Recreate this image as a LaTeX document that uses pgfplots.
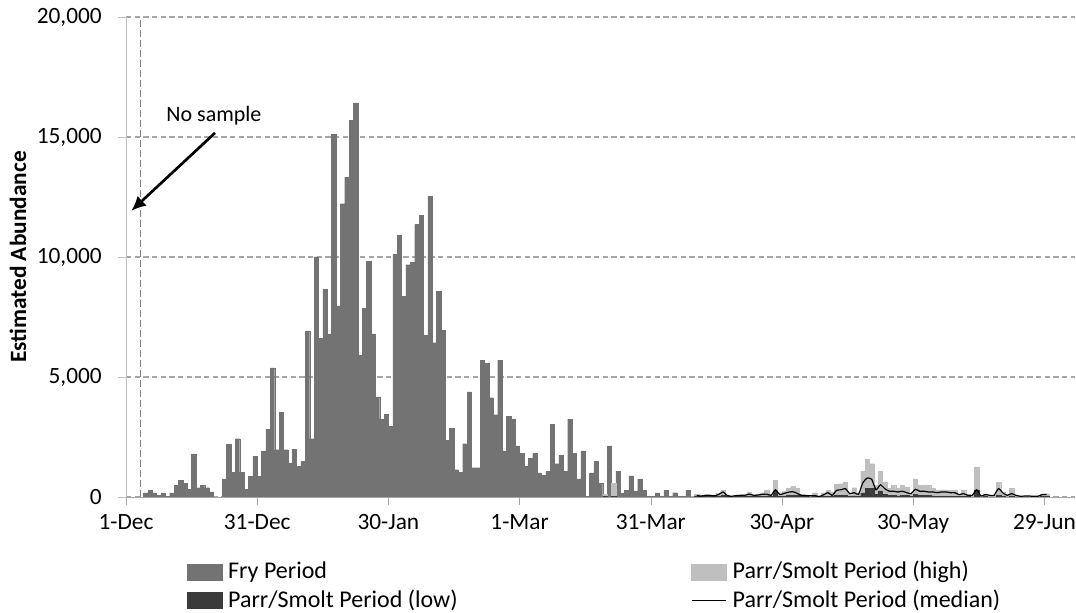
\documentclass[border=0pt]{standalone}
\usepackage{pgfplots}
\pgfplotsset{compat=1.18}
\usepackage{pgfplotstable}
\usepackage{fontspec}
\setmainfont{Carlito}
\usetikzlibrary{arrows.meta}

\definecolor{fry}{HTML}{737373}
\definecolor{high}{HTML}{BFBFBF}
\definecolor{low}{HTML}{3B3B3B}
\definecolor{gridc}{HTML}{A6A6A6}

% daily estimates, day 0 = 1-Dec
\pgfplotstableread{
day y
4 170
5 280
6 170
7 70
8 170
9 30
10 170
11 490
12 690
13 560
14 310
15 1800
16 390
17 490
18 390
19 210
22 760
23 2190
24 1040
25 2430
26 1040
27 310
28 860
29 1690
30 860
31 1920
32 2820
33 5380
34 1970
35 3540
36 1970
37 1420
38 1990
39 1290
40 1490
41 6920
42 2430
43 10000
44 6600
45 8650
46 6800
47 15100
48 7960
49 12220
50 13330
51 15700
52 16420
53 5900
54 7850
55 9830
56 6800
57 4170
58 3260
59 3440
60 2940
61 10110
62 10900
63 8360
64 9680
65 9790
66 11350
67 11740
68 6740
69 12530
70 6430
71 8570
72 6950
73 2360
74 2850
75 1140
76 1040
77 2220
78 4380
79 1220
80 1220
81 5700
82 5580
83 4140
84 3430
85 5700
86 1920
87 3360
88 3250
89 2130
90 1810
91 1290
92 1600
93 1810
94 1010
95 900
96 1080
97 3030
98 1390
99 1740
100 1080
101 3240
102 1810
103 760
104 1920
105 40
106 1000
107 1490
108 580
109 70
110 2130
112 1080
113 170
114 280
115 875
116 250
117 760
118 280
119 30
120 40
121 170
122 30
123 280
124 30
125 180
126 30
127 30
128 280
}\fry

\pgfplotstableread{
day high low med
109 100 30 60
111 560 30 60
130 100 50 60
131 50 20 40
132 80 30 70
133 80 30 70
134 60 20 50
135 150 40 100
136 280 60 210
137 80 20 60
138 40 10 30
139 60 20 60
140 80 30 70
141 90 30 70
142 210 40 120
143 90 30 70
144 130 30 80
145 180 40 110
146 280 50 120
147 90 20 70
148 690 250 300
149 180 40 100
150 240 40 150
151 350 60 200
152 440 70 220
153 375 60 150
154 100 20 60
155 80 20 60
156 60 15 50
157 180 30 60
158 30 10 20
159 180 30 90
160 280 40 180
161 210 30 70
162 530 60 280
163 555 70 300
164 625 80 350
165 170 30 140
166 390 50 180
167 180 30 110
168 1080 170 600
169 1560 350 790
170 1390 350 740
171 490 100 300
172 1070 250 510
173 625 120 350
174 350 60 240
175 510 80 240
176 350 50 210
177 490 70 240
178 420 60 180
179 140 30 140
180 760 100 320
181 490 80 240
182 510 80 240
183 510 70 210
184 350 50 210
185 280 40 180
186 300 40 210
187 300 40 210
188 280 40 180
189 300 40 180
190 100 20 100
191 280 40 140
192 100 20 70
193 70 10 70
194 1250 300 300
195 40 10 40
196 140 20 100
197 60 10 70
198 60 10 70
199 600 80 350
200 210 30 170
201 80 10 70
202 350 50 140
203 70 10 70
204 30 5 30
205 40 5 40
206 40 5 40
207 30 5 30
208 30 5 30
209 100 20 100
210 140 20 100
}\parr

\begin{document}
\fontsize{17.5}{21}\selectfont
\begin{tikzpicture}
\path[use as bounding box] (-94.5pt,-87pt) rectangle (712.5pt,372.75pt);
\begin{axis}[
    scale only axis,
    width=711.75pt, height=360pt,
    xmin=0, xmax=217, ymin=0, ymax=20000,
    axis x line*=bottom, axis y line*=left,
    x axis line style={gridc},
    y axis line style={high},
    tick align=outside, major tick length=6pt,
    xtick={0,30,...,210},
    xticklabels={1-Dec,31-Dec,30-Jan,1-Mar,31-Mar,30-Apr,30-May,29-Jun},
    ytick={0,5000,...,20000},
    scaled y ticks=false,
    xtick style={gridc}, ytick style={high},
    yticklabel style={anchor=east, inner sep=0pt, xshift=-12pt},
    xticklabel style={anchor=north, inner sep=0pt, yshift=-7pt},
    /pgf/number format/.cd, 1000 sep={,}, assume math mode=true, /pgfplots/.cd,
    ymajorgrids,
    major grid style={gridc, dash pattern=on 4pt off 2.5pt, line width=0.8pt},
    ylabel={Estimated Abundance},
    ylabel style={font=\bfseries, at={(axis description cs:-0.1138,0.5)}, anchor=center},
    legend columns=2,
    legend cell align=left,
    legend style={at={(axis description cs:0.0643,-0.1333)}, anchor=north west,
        draw=none, fill=none, inner sep=0pt, row sep=5.5pt,
        font=\fontsize{18}{21}\selectfont,
        nodes={inner sep=0pt},
        /tikz/every odd column/.style={column sep=4.5pt},
        /tikz/every even column/.style={column sep=175pt}},
]
\addplot[ybar, bar width=1, bar shift=0pt, fill=fry, draw=fry, line width=0.2pt,
    legend image code/.code={\fill[fry] (0pt,-6pt) rectangle (26pt,6pt);}]
    table[x expr=\thisrow{day}+0.5, y=y] {\fry};
\addplot[ybar, bar width=1, bar shift=0pt, fill=high, draw=high, line width=0.2pt,
    legend image code/.code={\fill[high] (0pt,-6pt) rectangle (26pt,6pt);}]
    table[x expr=\thisrow{day}+0.5, y=high] {\parr};
\addplot[ybar, bar width=1, bar shift=0pt, fill=low, draw=low, line width=0.2pt,
    legend image code/.code={\fill[low] (0pt,-6pt) rectangle (26pt,6pt);}]
    table[x expr=\thisrow{day}+0.5, y=low] {\parr};
\addplot[black, line width=0.9pt, smooth, tension=0.3, mark=none,
    restrict x to domain=129:212,
    legend image code/.code={\draw[black, line width=0.8pt] (0pt,0pt) -- (26pt,0pt);}]
    table[x expr=\thisrow{day}+0.5, y=med] {\parr};
\legend{Fry Period, Parr/Smolt Period (high), Parr/Smolt Period (low), Parr/Smolt Period (median)}

\draw[gray, line width=0.8pt, dash pattern=on 5pt off 2.5pt] (axis cs:3.3,0) -- (axis cs:3.3,20000);
\draw[line width=2pt, -{Latex[length=11pt,width=10pt]}] (axis cs:20.35,15170) -- (axis cs:1.2,11920);
\node[font=\fontsize{16.5}{19.8}\selectfont] at (axis cs:20.1,15900) {No sample};
\end{axis}
\end{tikzpicture}
\end{document}
